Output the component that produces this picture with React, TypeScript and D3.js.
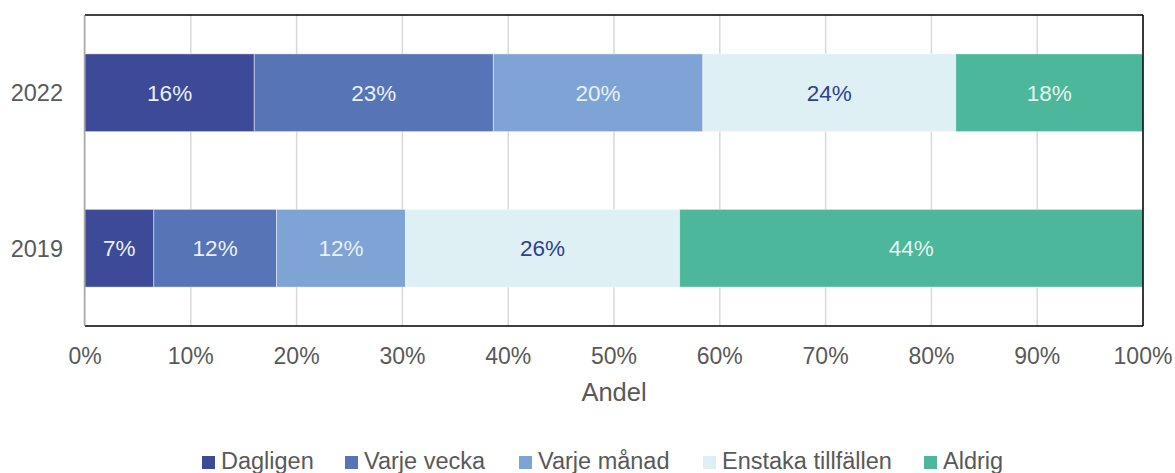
import React from "react";
import * as d3 from "d3";

const categories = ["2022", "2019"];
const seriesNames = ["Dagligen", "Varje vecka", "Varje månad", "Enstaka tillfällen", "Aldrig"];
const values2022 = [16.0, 22.6, 19.8, 23.9, 17.7];
const values2019 = [6.5, 11.6, 12.2, 25.9, 43.8];
const tickValues = [0, 10, 20, 30, 40, 50, 60, 70, 80, 90, 100];
const colors = ["#3C4A98", "#5674B6", "#7EA3D5", "#DFF0F4", "#4DB79B"];
const labelColors = ["#E9EFF8", "#E9EFF8", "#E9EFF8", "#2F3F92", "#E4F3EF"];
const xAxisTitle = "Andel";

const W = 1175;
const H = 473;
const plot = { left: 85, right: 1143, top: 15, bottom: 326 };
const legendX = [202, 345, 519, 703, 924];
const FONT = "Arial, 'Liberation Sans', sans-serif";

export default function App() {
  const x = d3.scaleLinear().domain([0, 100]).range([plot.left, plot.right]);
  const y = d3
    .scaleBand<string>()
    .domain(categories)
    .range([plot.top, plot.bottom])
    .paddingInner(0.5)
    .paddingOuter(0.25);

  const rows = categories.map((c, i) => {
    const vals = i === 0 ? values2022 : values2019;
    const obj: any = { cat: c };
    seriesNames.forEach((s, j) => (obj[s] = vals[j]));
    return obj;
  });
  const stacked = d3.stack<any>().keys(seriesNames)(rows);

  return (
    <svg
      width={W}
      height={H}
      style={{ position: "absolute", left: 0, top: 0, display: "block", background: "#fff" }}
      fontFamily={FONT}
    >
      {tickValues.map((t) => (
        <line
          key={"g" + t}
          x1={x(t)}
          x2={x(t)}
          y1={plot.top}
          y2={plot.bottom}
          stroke="#D9D9D9"
          strokeWidth={1.5}
        />
      ))}
      {stacked.map((layer, si) =>
        layer.map((d, ci) => {
          const cat = categories[ci];
          const x0 = x(d[0]);
          const x1 = x(d[1]);
          const by = y(cat)!;
          const bh = y.bandwidth();
          const v = d[1] - d[0];
          return (
            <g key={si + "-" + ci}>
              <rect
                x={x0}
                y={by}
                width={x1 - x0}
                height={bh}
                fill={colors[si]}
                stroke="#ffffff"
                strokeOpacity={0.45}
                strokeWidth={1}
              />
              <text
                x={(x0 + x1) / 2}
                y={by + bh / 2 + 8}
                textAnchor="middle"
                fontSize={22.5}
                fill={labelColors[si]}
              >
                {Math.round(v) + "%"}
              </text>
            </g>
          );
        })
      )}
      <line x1={plot.left} x2={plot.right} y1={plot.top} y2={plot.top} stroke="#000" strokeWidth={1.5} />
      <line x1={plot.right} x2={plot.right} y1={plot.top} y2={plot.bottom} stroke="#000" strokeWidth={1.5} />
      <line x1={plot.left} x2={plot.right} y1={plot.bottom} y2={plot.bottom} stroke="#000" strokeWidth={1.5} />
      <line x1={plot.left - 0.5} x2={plot.left - 0.5} y1={plot.top} y2={plot.bottom} stroke="#A6A6A6" strokeWidth={1.5} />
      {tickValues.map((t) => (
        <text key={"t" + t} x={x(t)} y={364} textAnchor="middle" fontSize={23} fill="#595959">
          {t + "%"}
        </text>
      ))}
      <text x={(plot.left + plot.right) / 2} y={401} textAnchor="middle" fontSize={25.5} fill="#595959">
        {xAxisTitle}
      </text>
      {categories.map((c) => (
        <text
          key={"y" + c}
          x={63}
          y={y(c)! + y.bandwidth() / 2 + 8.5}
          textAnchor="end"
          fontSize={23.5}
          fill="#595959"
        >
          {c}
        </text>
      ))}
      {seriesNames.map((s, i) => (
        <g key={"l" + s}>
          <rect x={legendX[i]} y={456} width={13} height={13} fill={colors[i]} />
          <text x={legendX[i] + 19} y={469} fontSize={23.5} fill="#595959">
            {s}
          </text>
        </g>
      ))}
    </svg>
  );
}
